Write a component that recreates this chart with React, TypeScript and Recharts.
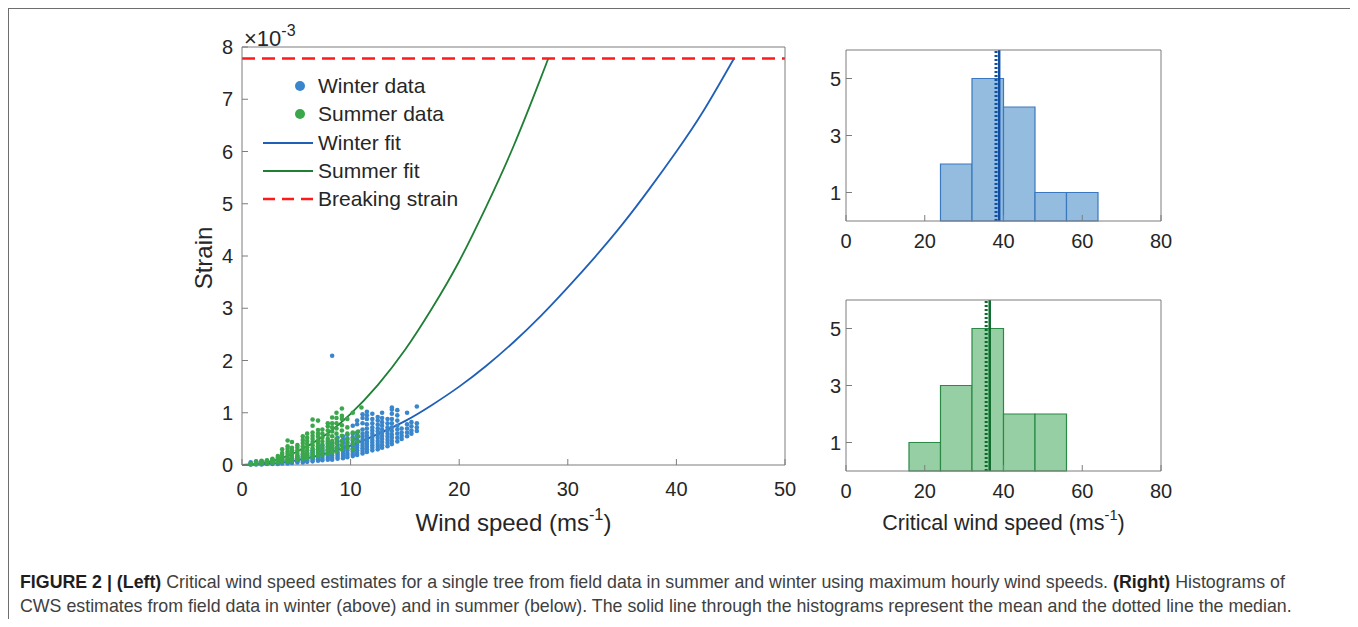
import React from 'react';
import {
  ComposedChart, XAxis, YAxis, Scatter, Line, ReferenceLine, ReferenceArea, Label,
} from 'recharts';

// ---------- Left panel data (strain in units of 1e-3) ----------
const winterSpeeds = [0.8, 1.3, 1.8, 2.3, 2.8, 3.3, 3.7, 4.2, 4.6, 5.1, 5.6, 6.0, 6.5, 7.0, 7.4, 7.9, 8.3, 8.8, 9.3, 9.7, 10.2, 10.6, 11.1, 11.5, 12.0, 12.5, 12.9, 13.4, 13.8, 14.3, 14.7, 15.2, 15.6, 16.1];
const winterStrains = [
  [0.01, 0.03, 0.05],
  [0.01, 0.03, 0.05, 0.07],
  [0.01, 0.03, 0.05, 0.07],
  [0.02, 0.04, 0.06, 0.08],
  [0.02, 0.04, 0.06, 0.08, 0.1],
  [0.02, 0.04, 0.06, 0.08, 0.1],
  [0.03, 0.05, 0.07, 0.09, 0.11],
  [0.03, 0.05, 0.07, 0.09, 0.12],
  [0.04, 0.06, 0.08, 0.1, 0.13],
  [0.05, 0.07, 0.09, 0.11, 0.14, 0.17],
  [0.05, 0.08, 0.1, 0.13, 0.16, 0.2],
  [0.06, 0.09, 0.12, 0.15, 0.18, 0.22],
  [0.07, 0.1, 0.13, 0.16, 0.2, 0.24, 0.28],
  [0.08, 0.11, 0.14, 0.18, 0.22, 0.26, 0.3, 0.35],
  [0.09, 0.12, 0.16, 0.2, 0.24, 0.28, 0.33, 0.38],
  [0.1, 0.14, 0.18, 0.22, 0.26, 0.3, 0.35, 0.4, 0.46],
  [0.1, 0.14, 0.18, 0.22, 0.27, 0.32, 0.37, 0.42, 2.09],
  [0.12, 0.16, 0.2, 0.24, 0.29, 0.34, 0.39, 0.45, 0.52],
  [0.13, 0.17, 0.21, 0.26, 0.31, 0.36, 0.42, 0.48, 0.55],
  [0.15, 0.19, 0.23, 0.28, 0.33, 0.38, 0.44, 0.5, 0.58],
  [0.17, 0.21, 0.26, 0.31, 0.36, 0.41, 0.47, 0.53, 0.6, 0.75],
  [0.19, 0.23, 0.28, 0.33, 0.38, 0.44, 0.5, 0.56, 0.62, 0.78, 0.85],
  [0.22, 0.27, 0.32, 0.37, 0.42, 0.48, 0.54, 0.6, 0.68, 0.8, 0.9, 0.97],
  [0.25, 0.3, 0.35, 0.4, 0.45, 0.5, 0.56, 0.62, 0.7, 0.78, 0.88, 0.95, 1.02],
  [0.28, 0.33, 0.38, 0.43, 0.48, 0.54, 0.6, 0.66, 0.72, 0.8, 0.88, 0.98],
  [0.3, 0.35, 0.4, 0.46, 0.52, 0.58, 0.64, 0.7, 0.77, 0.85, 0.92],
  [0.33, 0.38, 0.44, 0.5, 0.56, 0.62, 0.68, 0.75, 0.82, 0.9, 1.0],
  [0.36, 0.42, 0.48, 0.54, 0.6, 0.66, 0.72, 0.8, 0.88],
  [0.4, 0.46, 0.52, 0.58, 0.65, 0.72, 0.8, 0.88, 0.98, 1.06, 1.1],
  [0.45, 0.52, 0.6, 0.68, 0.75, 0.85, 0.95, 1.05],
  [0.5, 0.56, 0.62, 0.7],
  [0.55, 0.62, 0.7, 0.78, 1.0],
  [0.6, 0.66, 0.74, 0.82],
  [0.65, 0.72, 0.8, 1.12],
];

const summerSpeeds = [0.8, 1.3, 1.8, 2.3, 2.8, 3.3, 3.7, 4.2, 4.6, 5.1, 5.6, 6.0, 6.5, 7.0, 7.4, 7.9, 8.3, 8.7, 9.2, 9.7, 10.2, 10.7, 11.0];
const summerStrains = [
  [0.01, 0.03],
  [0.02, 0.04, 0.06],
  [0.02, 0.04, 0.06, 0.08],
  [0.03, 0.05, 0.07, 0.09],
  [0.04, 0.06, 0.08, 0.1, 0.12],
  [0.05, 0.08, 0.11, 0.14, 0.17],
  [0.06, 0.09, 0.12, 0.15, 0.19, 0.23, 0.3],
  [0.07, 0.1, 0.14, 0.18, 0.22, 0.26, 0.31, 0.36, 0.47],
  [0.08, 0.12, 0.16, 0.2, 0.24, 0.28, 0.33, 0.44],
  [0.1, 0.14, 0.18, 0.23, 0.28, 0.33, 0.38],
  [0.12, 0.16, 0.21, 0.26, 0.31, 0.36, 0.42, 0.48, 0.55],
  [0.13, 0.18, 0.23, 0.28, 0.34, 0.4, 0.46, 0.52, 0.6],
  [0.15, 0.2, 0.26, 0.32, 0.38, 0.44, 0.5, 0.56, 0.62, 0.75, 0.87],
  [0.17, 0.23, 0.29, 0.35, 0.41, 0.47, 0.54, 0.6, 0.67, 0.85],
  [0.19, 0.25, 0.31, 0.38, 0.45, 0.52, 0.6, 0.68],
  [0.21, 0.28, 0.35, 0.42, 0.5, 0.58, 0.66, 0.74, 0.8],
  [0.24, 0.3, 0.38, 0.46, 0.55, 0.64, 0.72, 0.8, 0.91],
  [0.26, 0.33, 0.42, 0.5, 0.6, 0.7, 0.8, 0.9, 1.0],
  [0.3, 0.38, 0.46, 0.56, 0.66, 0.76, 0.88, 0.94, 1.08],
  [0.33, 0.42, 0.5, 0.6, 0.72, 0.88],
  [0.3, 0.4, 0.5, 0.62, 1.0],
  [0.45, 0.55, 0.64],
  [1.1],
];

const winterFitSpeed = [0, 2.5, 5, 7.5, 10, 12.5, 15, 17.5, 20, 22.5, 25, 27.5, 30, 32.5, 35, 37.5, 40, 42.5, 45.3];
const winterFitStrain = [0, 0.02, 0.09, 0.21, 0.37, 0.59, 0.84, 1.15, 1.5, 1.9, 2.35, 2.85, 3.4, 3.98, 4.6, 5.28, 6.0, 6.78, 7.78];
const summerFitSpeed = [0, 2.5, 5, 7.5, 10, 12.5, 15, 17.5, 20, 22.5, 25, 27.5, 28.2];
const summerFitStrain = [0, 0.06, 0.25, 0.55, 0.98, 1.53, 2.2, 3.0, 3.9, 4.95, 6.1, 7.4, 7.78];
const breakingStrain = 7.78;

const strainTicks = [0, 1, 2, 3, 4, 5, 6, 7, 8];
const speedTicks = [0, 10, 20, 30, 40, 50];

// ---------- Right panel data (histograms) ----------
const winterBinEdges = [24, 32, 40, 48, 56, 64];
const winterCounts = [2, 5, 4, 1, 1];
const winterMean = 38.9;
const winterMedian = 38.1;
const summerBinEdges = [16, 24, 32, 40, 48, 56];
const summerCounts = [1, 3, 5, 2, 2];
const summerMean = 36.5;
const summerMedian = 35.6;
const cwsTicks = [0, 20, 40, 60, 80];
const countTicks = [1, 3, 5];

const legendItems = [
  { label: 'Winter data', kind: 'dot', color: '#3a86cc' },
  { label: 'Summer data', kind: 'dot', color: '#3aa84a' },
  { label: 'Winter fit', kind: 'line', color: '#1f5fb8' },
  { label: 'Summer fit', kind: 'line', color: '#1f7f35' },
  { label: 'Breaking strain', kind: 'dash', color: '#ff1a1a' },
];

// ---------- build tables ----------
const toPoints = (speeds: number[], cols: number[][]) =>
  speeds.flatMap((v, i) => cols[i].map((s) => ({ x: v, y: s })));
const winterPoints = toPoints(winterSpeeds, winterStrains);
const summerPoints = toPoints(summerSpeeds, summerStrains);
const winterFit = winterFitSpeed.map((v, i) => ({ x: v, y: winterFitStrain[i] }));
const summerFit = summerFitSpeed.map((v, i) => ({ x: v, y: summerFitStrain[i] }));
const toBins = (edges: number[], counts: number[]) =>
  counts.map((c, i) => ({ x1: edges[i], x2: edges[i + 1], c }));
const winterBins = toBins(winterBinEdges, winterCounts);
const summerBins = toBins(summerBinEdges, summerCounts);

const FONT = '"Liberation Sans", Arial, Helvetica, sans-serif';
const AXIS = '#7d7d7d';
const TXT = '#262626';

const tickBottom = (fs: number, dy: number) => (p: any) => (
  <g>
    <line x1={p.x} x2={p.x} y1={p.y} y2={p.y - 6} stroke={AXIS} strokeWidth={1} />
    <text x={p.x} y={p.y + dy} textAnchor="middle" fontSize={fs} fill={TXT} fontFamily={FONT}>{p.payload.value}</text>
  </g>
);
const tickLeft = (fs: number, dx: number) => (p: any) => (
  <g>
    <line x1={p.x} x2={p.x + 6} y1={p.y} y2={p.y} stroke={AXIS} strokeWidth={1} />
    <text x={p.x - dx} y={p.y + fs * 0.36} textAnchor="end" fontSize={fs} fill={TXT} fontFamily={FONT}>{p.payload.value}</text>
  </g>
);
const tickTop = (p: any) => <line x1={p.x} x2={p.x} y1={p.y} y2={p.y + 6} stroke={AXIS} strokeWidth={1} />;
const tickRight = (p: any) => <line x1={p.x} x2={p.x - 6} y1={p.y} y2={p.y} stroke={AXIS} strokeWidth={1} />;

const dot = (color: string) => (p: any) => <circle cx={p.cx} cy={p.cy} r={2.3} fill={color} />;

const speedLabel = (fs: number, dy: number) => (p: any) => {
  const vb = p.viewBox;
  const cx = vb.x + vb.width / 2;
  return (
    <text x={cx} y={vb.y + dy} textAnchor="middle" fontSize={fs} fill={TXT} fontFamily={FONT}>
      {p.text}
      <tspan>(ms</tspan>
      <tspan dy={-fs * 0.45} fontSize={fs * 0.68}>-1</tspan>
      <tspan dy={fs * 0.45}>)</tspan>
    </text>
  );
};

function LeftPanel() {
  return (
    <div style={{ position: 'absolute', left: 0, top: 0 }}>
      <ComposedChart width={800} height={560} margin={{ top: 29, right: 13, bottom: 43, left: 174 }}>
        <XAxis xAxisId={0} dataKey="x" type="number" domain={[0, 50]} ticks={speedTicks} interval={0}
          tickSize={0} tickMargin={0} tickLine={false} axisLine={{ stroke: AXIS }} height={60}
          tick={tickBottom(20, 31)}>
          <Label content={(p: any) => speedLabel(24, 66)({ ...p, text: 'Wind speed ' })} />
        </XAxis>
        <XAxis xAxisId="top" orientation="top" type="number" domain={[0, 50]} ticks={speedTicks} interval={0}
          tickSize={0} tickMargin={0} tickLine={false} axisLine={{ stroke: AXIS }} height={10} tick={tickTop} />
        <YAxis yAxisId={0} dataKey="y" type="number" domain={[0, 8]} ticks={strainTicks} interval={0}
          tickSize={0} tickMargin={0} tickLine={false} axisLine={{ stroke: AXIS }} width={60}
          tick={tickLeft(20, 9)}>
          <Label content={(p: any) => {
            const vb = p.viewBox;
            const cx = vb.x + 21;
            const cy = vb.y + 211;
            return (
              <g>
                <text x={cx} y={cy} transform={`rotate(-90 ${cx} ${cy})`} textAnchor="middle" dominantBaseline="central"
                  fontSize={24} fill={TXT} fontFamily={FONT}>Strain</text>
                <text x={vb.x + vb.width + 2} y={vb.y - 1} fontSize={22} fill={TXT} fontFamily={FONT}>
                  ×10<tspan dy={-10} fontSize={16}>-3</tspan>
                </text>
              </g>
            );
          }} />
        </YAxis>
        <YAxis yAxisId="right" orientation="right" type="number" domain={[0, 8]} ticks={strainTicks} interval={0}
          tickSize={0} tickMargin={0} tickLine={false} axisLine={{ stroke: AXIS }} width={10} tick={tickRight} />
        <Scatter name="Winter data" data={winterPoints} dataKey="y" shape={dot('#3a86cc')} isAnimationActive={false} />
        <Scatter name="Summer data" data={summerPoints} dataKey="y" shape={dot('#3aa84a')} isAnimationActive={false} />
        <Line name="Winter fit" data={winterFit} dataKey="y" type="natural" stroke="#1f5fb8" strokeWidth={1.8}
          dot={false} activeDot={false} isAnimationActive={false} />
        <Line name="Summer fit" data={summerFit} dataKey="y" type="natural" stroke="#1f7f35" strokeWidth={1.8}
          dot={false} activeDot={false} isAnimationActive={false} />
        <ReferenceLine y={breakingStrain} stroke="#ff1a1a" strokeWidth={2.5} strokeDasharray="13 7" />
      </ComposedChart>
      <div style={{ position: 'absolute', left: 255, top: 64, fontFamily: FONT, fontSize: 21, color: TXT }}>
        {legendItems.map((it) => (
          <div key={it.label} style={{ height: 28.3, display: 'flex', alignItems: 'center', whiteSpace: 'nowrap' }}>
            <svg width={55} height={12} style={{ display: 'block' }}>
              {it.kind === 'dot' && <circle cx={37} cy={6} r={5} fill={it.color} />}
              {it.kind === 'line' && <line x1={0} x2={50} y1={6} y2={6} stroke={it.color} strokeWidth={1.8} />}
              {it.kind === 'dash' && <line x1={0} x2={50} y1={6} y2={6} stroke={it.color} strokeWidth={2.5} strokeDasharray="12 7" />}
            </svg>
            <span>{it.label}</span>
          </div>
        ))}
      </div>
    </div>
  );
}

function Histogram(props: {
  top: number; height: number; bins: { x1: number; x2: number; c: number }[];
  fill: string; edge: string; line: string; mean: number; median: number; showLabel: boolean;
}) {
  const { top, height, bins, fill, edge, line, mean, median, showLabel } = props;
  return (
    <div style={{ position: 'absolute', left: 790, top }}>
      <ComposedChart width={390} height={height} margin={{ top: 12, right: 17, bottom: height - 240 + 7, left: 8 }}>
        <XAxis xAxisId={0} dataKey="x" type="number" domain={[0, 80]} ticks={cwsTicks} interval={0}
          tickSize={0} tickMargin={0} tickLine={false} axisLine={{ stroke: AXIS }} height={40}
          tick={tickBottom(20, 27)}>
          {showLabel && <Label content={(p: any) => speedLabel(21.5, 59)({ ...p, text: 'Critical wind speed ' })} />}
        </XAxis>
        <XAxis xAxisId="top" orientation="top" type="number" domain={[0, 80]} ticks={cwsTicks} interval={0}
          tickSize={0} tickMargin={0} tickLine={false} axisLine={{ stroke: AXIS }} height={10} tick={tickTop} />
        <YAxis yAxisId={0} dataKey="c" type="number" domain={[0, 6]} ticks={countTicks} interval={0}
          tickSize={0} tickMargin={0} tickLine={false} axisLine={{ stroke: AXIS }} width={40}
          tick={tickLeft(20, 5)} />
        <YAxis yAxisId="right" orientation="right" type="number" domain={[0, 6]} ticks={countTicks} interval={0}
          tickSize={0} tickMargin={0} tickLine={false} axisLine={{ stroke: AXIS }} width={10} tick={tickRight} />
        <Scatter data={bins.map((b) => ({ x: (b.x1 + b.x2) / 2, c: b.c }))} dataKey="c" shape={() => <g />} isAnimationActive={false} />
        {bins.map((b) => (
          <ReferenceArea key={b.x1} x1={b.x1} x2={b.x2} y1={0} y2={b.c} fill={fill} fillOpacity={1} stroke={edge} strokeWidth={1.2} />
        ))}
        <ReferenceLine x={median} stroke={line} strokeWidth={3} strokeDasharray="2 2" />
        <ReferenceLine x={mean} stroke={line} strokeWidth={2.5} />
      </ComposedChart>
    </div>
  );
}

export default function App() {
  return (
    <div style={{ position: 'relative', width: 1342, height: 611, fontFamily: FONT, overflow: 'hidden' }}>
      <div style={{ position: 'absolute', left: 0, top: 0, width: 1343, height: 640, border: '1px solid #6e6e6e', boxSizing: 'border-box' }} />
      <LeftPanel />
      <Histogram top={20} height={240} bins={winterBins} fill="#94bcdf" edge="#3a78bf" line="#0f4ea3"
        mean={winterMean} median={winterMedian} showLabel={false} />
      <Histogram top={270} height={290} bins={summerBins} fill="#97cfa4" edge="#2a8a45" line="#0b6b2c"
        mean={summerMean} median={summerMedian} showLabel={true} />
      <div style={{ position: 'absolute', left: 12, top: 562, fontSize: 17.8, lineHeight: '24px', color: '#404040', whiteSpace: 'nowrap' }}>
        <b style={{ color: '#1e1e1e' }}>FIGURE 2 | (Left)</b> Critical wind speed estimates for a single tree from field data in summer and winter using maximum hourly wind speeds. <b style={{ color: '#1e1e1e' }}>(Right)</b> Histograms of
        <br />
        CWS estimates from field data in winter (above) and in summer (below). The solid line through the histograms represent the mean and the dotted line the median.
      </div>
    </div>
  );
}
